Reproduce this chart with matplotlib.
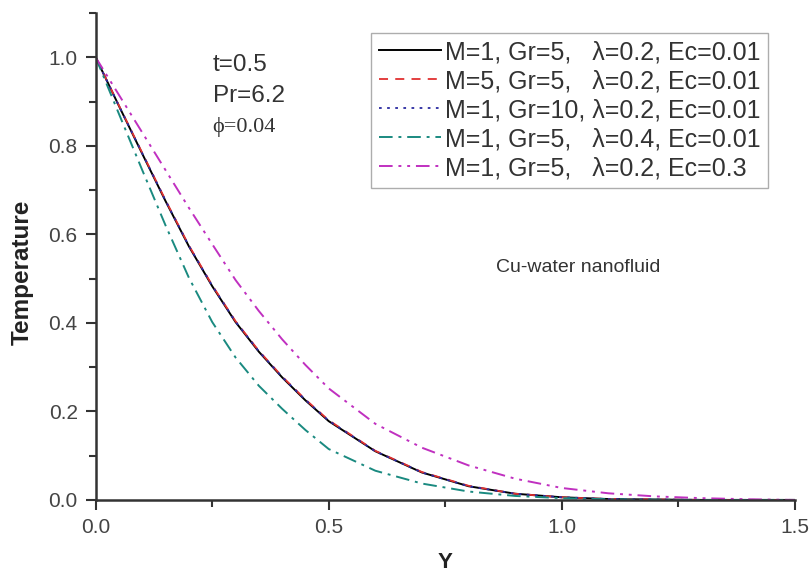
import matplotlib
matplotlib.use("Agg")
import matplotlib.pyplot as plt
from matplotlib.ticker import MultipleLocator

plt.rcParams["font.family"] = ["Liberation Sans", "DejaVu Sans"]

y_pos = [0.0, 0.05, 0.1, 0.15, 0.2, 0.25, 0.3, 0.35, 0.4, 0.45, 0.5,
         0.6, 0.7, 0.8, 0.9, 1.0, 1.1, 1.2, 1.3, 1.4, 1.5]

temp_base = [1.0, 0.89, 0.782, 0.675, 0.573, 0.483, 0.402, 0.335, 0.277, 0.225, 0.178,
             0.11, 0.062, 0.031, 0.014, 0.006, 0.002, 0.001, 0.0, 0.0, 0.0]
temp_m5 = [1.0, 0.891, 0.784, 0.677, 0.575, 0.485, 0.404, 0.337, 0.279, 0.227, 0.18,
           0.111, 0.063, 0.032, 0.014, 0.006, 0.002, 0.001, 0.0, 0.0, 0.0]
temp_gr10 = [1.0, 0.89, 0.783, 0.676, 0.574, 0.484, 0.403, 0.336, 0.278, 0.226, 0.179,
             0.11, 0.062, 0.031, 0.014, 0.006, 0.002, 0.001, 0.0, 0.0, 0.0]
temp_lam04 = [1.0, 0.872, 0.745, 0.62, 0.502, 0.402, 0.322, 0.258, 0.206, 0.158, 0.115,
              0.066, 0.037, 0.019, 0.009, 0.004, 0.0015, 0.0005, 0.0, 0.0, 0.0]
temp_ec03 = [1.0, 0.915, 0.83, 0.745, 0.66, 0.578, 0.497, 0.427, 0.363, 0.305, 0.252,
             0.172, 0.118, 0.078, 0.048, 0.027, 0.015, 0.008, 0.004, 0.0015, 0.0]

labels = [
    "M=1, Gr=5,   \u03bb=0.2, Ec=0.01",
    "M=5, Gr=5,   \u03bb=0.2, Ec=0.01",
    "M=1, Gr=10, \u03bb=0.2, Ec=0.01",
    "M=1, Gr=5,   \u03bb=0.4, Ec=0.01",
    "M=1, Gr=5,   \u03bb=0.2, Ec=0.3",
]

fig = plt.figure(figsize=(8.11, 5.72), dpi=100)
ax = fig.add_axes([0.118, 0.126, 0.862, 0.851])

ax.plot(y_pos, temp_base, color="black", lw=1.4, ls="-", label=labels[0])
ax.plot(y_pos, temp_m5, color="#e03030", lw=1.3, ls=(0, (5, 4)), label=labels[1])
ax.plot(y_pos, temp_gr10, color="#2a2aa0", lw=1.3, ls=(0, (1.5, 3)), label=labels[2])
ax.plot(y_pos, temp_lam04, color="#1a8a80", lw=1.4, ls=(0, (7, 3, 1.5, 3)), label=labels[3])
ax.plot(y_pos, temp_ec03, color="#c030c0", lw=1.4, ls=(0, (7, 3, 1.5, 3, 1.5, 3)), label=labels[4])

ax.set_xlim(0, 1.5)
ax.set_ylim(0, 1.10)
ax.set_xticks([0.0, 0.5, 1.0, 1.5])
ax.set_yticks([0.0, 0.2, 0.4, 0.6, 0.8, 1.0])
ax.xaxis.set_minor_locator(MultipleLocator(0.25))
ax.yaxis.set_minor_locator(MultipleLocator(0.1))
ax.tick_params(which="both", direction="out", colors="#333333", labelcolor="#444444",
               labelsize=15, pad=6)
ax.tick_params(which="major", length=7, width=1.5)
ax.tick_params(which="minor", length=5, width=1.5)
for side in ["top", "right"]:
    ax.spines[side].set_visible(False)
for side in ["left", "bottom"]:
    ax.spines[side].set_color("#333333")
    ax.spines[side].set_linewidth(1.8)

ax.set_ylabel("Temperature", fontsize=17.5, fontweight="bold", color="#222222")
ax.yaxis.set_label_coords(-0.088, 0.467)
ax.set_xlabel("Y", fontsize=16, fontweight="bold", color="#222222")
ax.xaxis.set_label_coords(0.499, -0.108)

ax.text(0.251, 0.982, "t=0.5", fontsize=17.5, color="#333333", va="center")
ax.text(0.251, 0.912, "Pr=6.2", fontsize=17.5, color="#333333", va="center")
ax.text(0.251, 0.842, "\u03d5=0.04", fontsize=16, color="#333333", va="center",
        family=["Liberation Serif", "DejaVu Serif"])
ax.text(0.858, 0.525, "Cu-water nanofluid", fontsize=14, color="#333333", va="center")

leg = ax.legend(loc="upper right", bbox_to_anchor=(0.962, 0.96), fontsize=18,
                handlelength=2.5, handletextpad=0.15, labelspacing=0.2,
                borderpad=0.3, borderaxespad=0.0, fancybox=False, frameon=True)
leg.get_frame().set_edgecolor("#999999")
leg.get_frame().set_linewidth(1.0)
for t in leg.get_texts():
    t.set_color("#333333")

fig.savefig("out.png", dpi=100)
